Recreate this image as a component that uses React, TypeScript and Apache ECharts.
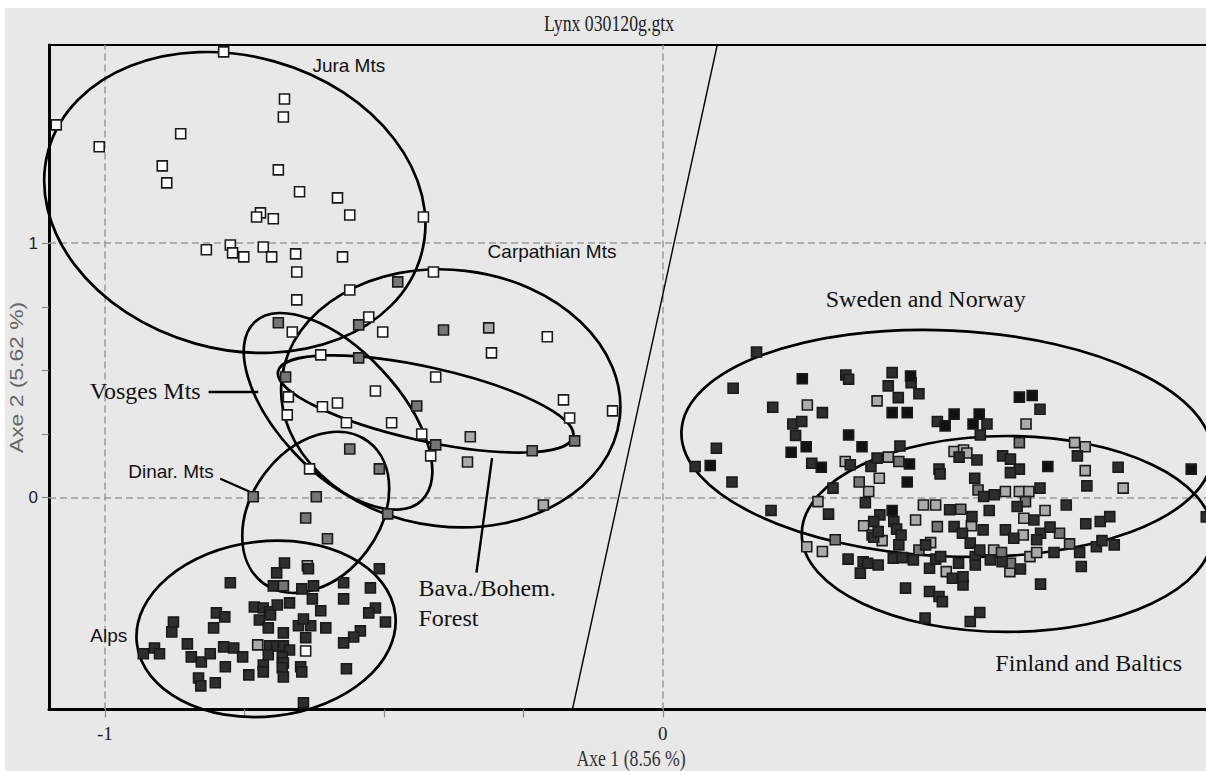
import React, { useEffect, useRef } from 'react';
import * as echarts from 'echarts';

// ---- data (Axe 1, Axe 2) ----
const whitePoints: number[][] = [
  [-0.787,1.752],[-1.087,1.465],[-1.010,1.379],[-0.864,1.430],[-0.897,1.304],[-0.889,1.237],[-0.678,1.567],[-0.680,1.496],
  [-0.689,1.288],[-0.651,1.202],[-0.583,1.178],[-0.561,1.111],[-0.429,1.103],[-0.721,1.119],[-0.728,1.103],[-0.698,1.096],
  [-0.818,0.974],[-0.775,0.993],[-0.771,0.962],[-0.751,0.946],[-0.716,0.985],[-0.701,0.946],[-0.658,0.958],[-0.574,0.946],
  [-0.656,0.887],[-0.561,0.816],[-0.656,0.777],[-0.664,0.651],[-0.527,0.710],[-0.502,0.651],[-0.411,0.887],[-0.613,0.561],
  [-0.407,0.474],[-0.515,0.419],[-0.671,0.396],[-0.673,0.325],[-0.610,0.357],[-0.583,0.372],[-0.567,0.294],[-0.486,0.294],
  [-0.416,0.164],[-0.633,0.113],[-0.307,0.569],[-0.207,0.632],[-0.178,0.384],[-0.090,0.341],[-0.167,0.313],[-0.432,0.250],
  [-0.640,-0.603]
];
const lightPoints: number[][] = [
  [-0.312,0.667],[-0.345,0.239],[-0.350,0.140],[-0.214,-0.029],[-0.726,-0.579],[-0.637,-0.268],
  [0.384,0.380],[0.259,0.364],[0.651,0.289],[0.327,0.142],[0.404,0.159],[0.369,0.024],[0.388,0.076],[0.614,0.024],
  [0.639,0.024],[0.656,0.024],[0.738,0.216],[0.757,0.200],[0.757,0.106],[0.825,0.037],[0.522,0.181],[0.539,0.187],
  [0.545,0.175],[0.278,-0.016],[0.467,-0.029],[0.489,-0.029],[0.685,-0.051],[0.360,-0.111],[0.393,-0.169],[0.286,-0.212],
  [0.258,-0.193],[0.480,-0.177],[0.453,-0.088],[0.553,-0.111],[0.508,-0.291],[0.593,-0.206],[0.622,-0.291],[0.646,-0.147],
  [0.647,-0.081],[0.658,-0.232],[0.670,-0.216]
];
const mediumPoints: number[][] = [
  [-0.475,0.848],[-0.689,0.687],[-0.545,0.679],[-0.393,0.659],[-0.545,0.549],[-0.676,0.474],[-0.441,0.360],[-0.407,0.207],
  [-0.561,0.191],[-0.508,0.113],[-0.734,0.003],[-0.621,0.003],[-0.640,-0.080],[-0.601,-0.162],[-0.493,-0.064],[-0.158,0.223],
  [-0.234,0.184],[-0.680,-0.347],
  [0.423,0.142],[0.352,0.061],[0.639,0.216],[0.565,0.030],[0.534,-0.046],[0.650,-0.016],[0.375,-0.147],[0.309,-0.166],
  [0.459,-0.206],[0.492,-0.114],[0.607,-0.216],[0.623,-0.258],[0.711,-0.140],[0.729,-0.182]
];
const darkPoints: number[][] = [
  [-0.678,-0.257],[-0.635,-0.280],[-0.692,-0.296],[-0.508,-0.280],[-0.775,-0.335],[-0.698,-0.347],[-0.626,-0.347],[-0.647,-0.359],
  [-0.572,-0.335],[-0.524,-0.355],[-0.628,-0.398],[-0.572,-0.398],[-0.732,-0.430],[-0.716,-0.434],[-0.705,-0.449],[-0.691,-0.422],
  [-0.669,-0.414],[-0.613,-0.445],[-0.515,-0.434],[-0.527,-0.453],[-0.497,-0.489],[-0.800,-0.453],[-0.785,-0.469],[-0.723,-0.481],
  [-0.703,-0.461],[-0.877,-0.489],[-0.880,-0.528],[-0.805,-0.512],[-0.653,-0.504],[-0.631,-0.504],[-0.604,-0.512],[-0.644,-0.477],
  [-0.707,-0.512],[-0.542,-0.524],[-0.554,-0.548],[-0.572,-0.571],[-0.680,-0.532],[-0.640,-0.551],[-0.852,-0.575],[-0.787,-0.587],
  [-0.769,-0.591],[-0.705,-0.583],[-0.692,-0.583],[-0.680,-0.583],[-0.669,-0.599],[-0.931,-0.614],[-0.911,-0.591],[-0.902,-0.614],
  [-0.845,-0.626],[-0.827,-0.646],[-0.811,-0.614],[-0.753,-0.626],[-0.707,-0.618],[-0.682,-0.626],[-0.680,-0.650],[-0.716,-0.658],
  [-0.784,-0.665],[-0.682,-0.669],[-0.649,-0.665],[-0.647,-0.685],[-0.567,-0.673],[-0.742,-0.697],[-0.716,-0.685],[-0.680,-0.705],
  [-0.832,-0.709],[-0.828,-0.740],[-0.802,-0.728],[-0.644,-0.807],
  [0.168,0.572],[0.126,0.430],[0.328,0.482],[0.333,0.465],[0.411,0.491],[0.445,0.452],[0.404,0.439],[0.459,0.408],
  [0.422,0.393],[0.197,0.355],[0.286,0.334],[0.676,0.347],[0.492,0.299],[0.581,0.289],[0.233,0.289],[0.249,0.299],
  [0.238,0.244],[0.267,0.135],[0.096,0.194],[0.058,0.122],[0.124,0.061],[0.194,-0.051],[0.305,0.037],[0.336,0.129],
  [0.373,0.122],[0.384,0.155],[0.425,0.203],[0.569,0.246],[0.609,0.164],[0.623,0.151],[0.639,0.112],[0.623,0.098],
  [0.563,0.148],[0.495,0.112],[0.497,0.093],[0.559,0.076],[0.575,0.004],[0.594,0.011],[0.676,0.037],[0.743,0.164],
  [0.760,0.046],[0.816,0.119],[0.974,-0.076],[0.531,0.159],[0.297,-0.065],[0.363,-0.020],[0.389,-0.068],[0.514,-0.048],
  [0.554,-0.075],[0.585,-0.051],[0.635,-0.035],[0.723,-0.029],[0.378,-0.156],[0.414,-0.094],[0.419,-0.124],[0.427,-0.147],
  [0.423,-0.186],[0.332,-0.242],[0.359,-0.252],[0.367,-0.258],[0.386,-0.265],[0.354,-0.297],[0.413,-0.238],[0.429,-0.236],
  [0.449,-0.245],[0.471,-0.186],[0.522,-0.114],[0.537,-0.140],[0.551,-0.179],[0.574,-0.127],[0.478,-0.278],[0.489,-0.242],
  [0.498,-0.232],[0.519,-0.317],[0.530,-0.258],[0.538,-0.343],[0.538,-0.311],[0.560,-0.232],[0.560,-0.265],[0.568,-0.206],
  [0.587,-0.245],[0.608,-0.252],[0.641,-0.281],[0.614,-0.127],[0.629,-0.160],[0.665,-0.088],[0.677,-0.140],[0.670,-0.166],
  [0.694,-0.116],[0.701,-0.216],[0.747,-0.216],[0.750,-0.271],[0.677,-0.340],[0.758,-0.103],[0.784,-0.094],[0.801,-0.075],
  [0.777,-0.193],[0.787,-0.169],[0.809,-0.186],[0.435,-0.356],[0.478,-0.369],[0.495,-0.389],[0.501,-0.409],[0.470,-0.474],
  [0.551,-0.487],[0.568,-0.452],[0.378,-0.094],[0.386,-0.134]
];
const blackPoints: number[][] = [
  [0.250,0.467],[0.444,0.478],[0.411,0.334],[0.438,0.334],[0.639,0.395],[0.662,0.401],[0.522,0.328],[0.567,0.328],
  [0.506,0.282],[0.556,0.289],[0.333,0.246],[0.357,0.200],[0.257,0.200],[0.230,0.178],[0.284,0.119],[0.085,0.126],
  [0.442,0.132],[0.438,0.061],[0.690,0.122],[0.947,0.112],[0.411,-0.051]
];

// confidence ellipses: [centre x, centre y, semi-axis a (x units), semi-axis b (y units), rotation deg]
const ellipses: number[][] = [
  [-0.767, 1.160, 0.347, 0.576, -15.6], // Jura
  [-0.380, 0.390, 0.305, 0.505, -6.6],  // Carpathian
  [-0.582, 0.339, 0.219, 0.237, -47],   // Vosges
  [-0.425, 0.368, 0.271, 0.145, -12.5], // Bava./Bohem.
  [-0.622, -0.058, 0.158, 0.252, 53.6], // Dinar.
  [-0.711, -0.516, 0.233, 0.344, 6.3],  // Alps
  [0.509, 0.213, 0.476, 0.444, -2.7],   // Sweden and Norway
  [0.617, -0.143, 0.368, 0.385, 0]      // Finland and Baltics
];

const dividerLine: number[][] = [[0.0975, 1.779], [-0.162, -0.833]];

const leaderLines: number[][] = [
  [-0.814, 0.415, -0.725, 0.415],
  [-0.793, 0.074, -0.732, 0.015],
  [-0.306, 0.155, -0.334, -0.295]
];

const regionLabels: [string, number, number, string][] = [
  ['Jura Mts', -0.628, 1.697, 'sans'],
  ['Carpathian Mts', -0.314, 0.966, 'sans'],
  ['Sweden and Norway', 0.292, 0.779, 'serif'],
  ['Vosges Mts', -1.027, 0.419, 'serif'],
  ['Dinar. Mts', -0.958, 0.101, 'sans'],
  ['Alps', -1.026, -0.544, 'sans'],
  ['Bava./Bohem.', -0.438, -0.355, 'serif'],
  ['Forest', -0.438, -0.473, 'serif'],
  ['Finland and Baltics', 0.596, -0.650, 'serif']
];

const xTickValues = [-1, -0.75, -0.5, -0.25, 0];
const xLabelValues = [-1, 0];
const yTickValues = [0, 0.25, 0.5, 0.75, 1];
const yLabelValues = [0, 1];

const chartTitle = 'Lynx 030120g.gtx';
const xName = 'Axe 1 (8.56 %)';
const yName = 'Axe 2 (5.62 %)';

const BG = '#e8e8e8';
const X_MIN = -1.1;
const X_MAX = 1.0;

function scatter(name: string, data: number[][], color: string) {
  return {
    type: 'scatter',
    name,
    data,
    symbol: 'rect',
    symbolSize: 10,
    z: 4,
    silent: true,
    itemStyle: { color, borderColor: '#1a1a1a', borderWidth: 1.6, opacity: 1 },
  };
}

export default function App() {
  const ref = useRef<HTMLDivElement>(null);
  useEffect(() => {
    if (!ref.current) return;
    const chart = echarts.init(ref.current, undefined, { renderer: 'svg' });
    const option: any = {
      animation: false,
      backgroundColor: BG,
      grid: { left: 44, top: 37, width: 1171.8, height: 664.5, show: false },
      xAxis: [
        {
          type: 'value', min: X_MIN, max: X_MAX, position: 'bottom',
          axisLine: { show: true, onZero: false, lineStyle: { color: '#000', width: 3 } },
          axisTick: { show: true, customValues: xTickValues, length: 8, lineStyle: { color: '#888', width: 1.2 } },
          axisLabel: { show: true, customValues: xLabelValues, margin: 14, color: '#222', fontSize: 19, fontFamily: 'Liberation Serif' },
          splitLine: { show: false },
        },
        {
          type: 'value', min: X_MIN, max: X_MAX, position: 'top',
          axisLine: { show: true, onZero: false, lineStyle: { color: '#000', width: 2 } },
          axisTick: { show: false },
          axisLabel: { show: false },
          splitLine: { show: false },
        },
      ],
      yAxis: {
        type: 'value', min: -0.833, max: 1.779,
        axisLine: { show: true, onZero: false, lineStyle: { color: '#000', width: 3 } },
        axisTick: { show: true, customValues: yTickValues, length: 7, lineStyle: { color: '#888', width: 1.2 } },
        axisLabel: { show: true, customValues: yLabelValues, margin: 11, color: '#222', fontSize: 17, fontFamily: 'Liberation Sans' },
        splitLine: { show: false },
      },
      graphic: [
        {
          type: 'text', x: 604, y: 15, scaleX: 0.74, silent: true,
          style: { text: chartTitle, font: '24px "Liberation Serif"', fill: '#222', align: 'center', verticalAlign: 'middle', textAlign: 'center', textVerticalAlign: 'middle' },
        },
        {
          type: 'text', x: 626, y: 750, scaleX: 0.77, silent: true,
          style: { text: xName, font: '23px "Liberation Serif"', fill: '#333', align: 'center', verticalAlign: 'middle', textAlign: 'center', textVerticalAlign: 'middle' },
        },
        {
          type: 'text', x: 11.5, y: 369.5, rotation: Math.PI / 2, scaleX: 1.27, silent: true,
          style: { text: yName, font: '18px "Liberation Sans"', fill: '#666', align: 'center', verticalAlign: 'middle', textAlign: 'center', textVerticalAlign: 'middle' },
        },
      ],
      series: [
        {
          type: 'line',
          name: 'divider',
          data: dividerLine,
          symbol: 'none',
          silent: true,
          z: 2,
          lineStyle: { color: '#000', width: 1.4 },
          markLine: {
            silent: true,
            symbol: 'none',
            label: { show: false },
            lineStyle: { color: '#9a9a9a', type: [7, 4], width: 1.5 },
            data: [{ xAxis: -1 }, { xAxis: 0 }, { yAxis: 0 }, { yAxis: 1 }],
            z: 1,
          },
        },
        {
          type: 'custom',
          name: 'ellipses',
          coordinateSystem: 'cartesian2d',
          data: ellipses,
          encode: { x: 0, y: 1 },
          z: 3,
          silent: true,
          renderItem: (params: any, api: any) => {
            const c = api.coord([api.value(0), api.value(1)]);
            const s = api.size([1, 1]);
            return {
              type: 'ellipse',
              x: c[0], y: c[1],
              rotation: (api.value(4) * Math.PI) / 180,
              shape: { cx: 0, cy: 0, rx: api.value(2) * s[0], ry: api.value(3) * s[1] },
              style: { fill: 'none', stroke: '#000', lineWidth: 2.7 },
            };
          },
        },
        {
          type: 'custom',
          name: 'leaders',
          coordinateSystem: 'cartesian2d',
          data: leaderLines,
          encode: { x: [0, 2], y: [1, 3] },
          z: 3,
          silent: true,
          renderItem: (params: any, api: any) => {
            const p1 = api.coord([api.value(0), api.value(1)]);
            const p2 = api.coord([api.value(2), api.value(3)]);
            return {
              type: 'line',
              shape: { x1: p1[0], y1: p1[1], x2: p2[0], y2: p2[1] },
              style: { stroke: '#000', lineWidth: 2.4 },
            };
          },
        },
        scatter('white', whitePoints, '#ffffff'),
        scatter('light', lightPoints, '#ababab'),
        scatter('medium', mediumPoints, '#767676'),
        scatter('dark', darkPoints, '#2e2e2e'),
        scatter('black', blackPoints, '#111111'),
        {
          type: 'custom',
          name: 'labels',
          coordinateSystem: 'cartesian2d',
          data: regionLabels.map((l, i) => [l[1], l[2], i]),
          encode: { x: 0, y: 1 },
          z: 5,
          silent: true,
          renderItem: (params: any, api: any) => {
            const idx = api.value(2);
            const l = regionLabels[idx];
            const c = api.coord([api.value(0), api.value(1)]);
            const font = l[3] === 'serif' ? '24px "Liberation Serif"' : '19px "Liberation Sans"';
            return {
              type: 'text',
              x: c[0], y: c[1],
              style: { text: l[0], font, fill: '#111', align: 'left', verticalAlign: 'middle', textAlign: 'left', textVerticalAlign: 'middle' },
            };
          },
        },
      ],
    };
    chart.setOption(option);
    return () => chart.dispose();
  }, []);

  return (
    <div style={{ position: 'absolute', left: 5, top: 8, width: 1201, height: 763, overflow: 'hidden', background: BG }}>
      <div ref={ref} style={{ width: 1260, height: 763 }} />
    </div>
  );
}
